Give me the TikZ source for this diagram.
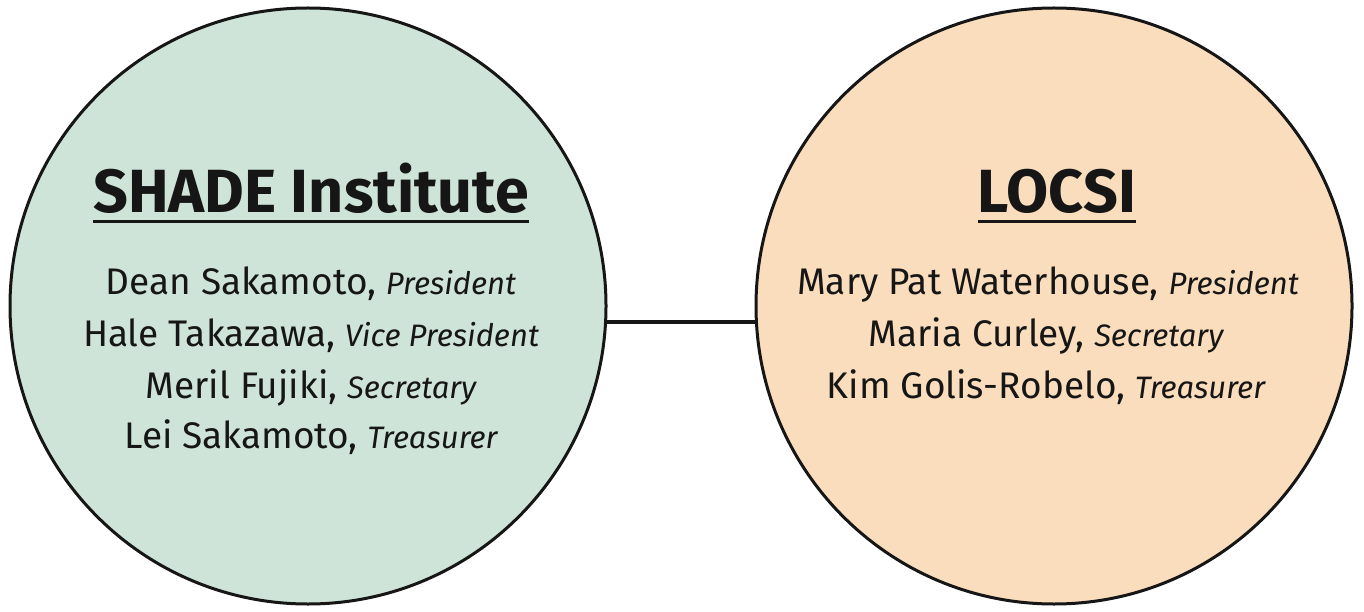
\documentclass[tikz,border=0pt]{standalone}
\usepackage{fontspec}
\setmainfont{Fira Sans}
\definecolor{greenfill}{RGB}{206,228,216}
\definecolor{peachfill}{RGB}{250,221,188}
\definecolor{ink}{RGB}{22,22,22}
\begin{document}
\begin{tikzpicture}[x=1pt,y=1pt,
  org/.style={circle,draw=ink,line width=3pt,minimum size=596pt,inner sep=0pt},
  title/.style={font=\fontsize{61}{64}\selectfont\bfseries,text=ink,anchor=base,inner sep=0pt},
  body/.style={font=\fontsize{37}{52}\selectfont,text=ink,anchor=base,inner sep=0pt},
  ul/.style={draw=ink,line width=3pt},
  link/.style={draw=ink,line width=4pt}]
\useasboundingbox (0,0) rectangle (1364,-612);
\newcommand{\role}[1]{{\itshape\fontsize{31}{52}\selectfont #1}}
\node[org,fill=greenfill] (L) at (308,-306) {};
\node[org,fill=peachfill] (R) at (1054,-306) {};
\draw[link] (L.-3.1) -- (R.183.1);
% left
\node[title] (Lt) at (311,-213) {SHADE Institute};
\coordinate (Lu1) at ([yshift=-9]Lt.base west);
\coordinate (Lu2) at ([yshift=-9]Lt.base east);
\draw[ul] (Lu1) -- (Lu2);
\node[body] (L1) at (311,-294) {Dean Sakamoto, \role{President}};
\node[body] (L2) at (311,-346) {Hale Takazawa, \role{Vice President}};
\node[body] (L3) at (311,-398) {Meril Fujiki, \role{Secretary}};
\node[body] (L4) at (311,-448) {Lei Sakamoto, \role{Treasurer}};
% right
\node[title] (Rt) at (1057,-213) {LOCSI};
\coordinate (Ru1) at ([yshift=-9]Rt.base west);
\coordinate (Ru2) at ([yshift=-9]Rt.base east);
\draw[ul] (Ru1) -- (Ru2);
\node[body] (R1) at (1048,-294) {Mary Pat Waterhouse, \role{President}};
\node[body] (R2) at (1046,-346) {Maria Curley, \role{Secretary}};
\node[body] (R3) at (1046,-398) {Kim Golis-Robelo, \role{Treasurer}};
\end{tikzpicture}
\end{document}
